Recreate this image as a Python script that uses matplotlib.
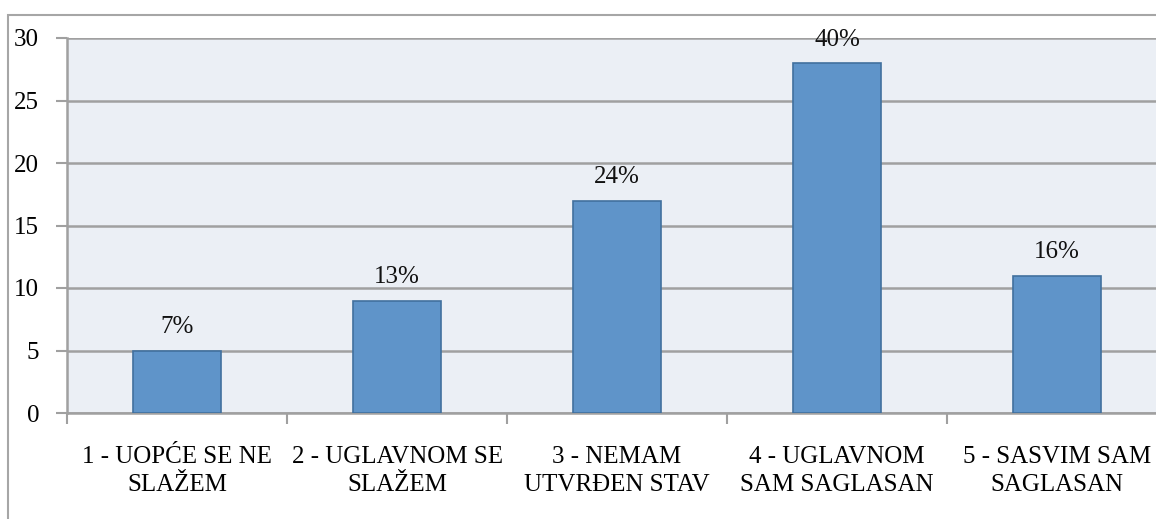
import numpy as np
import matplotlib
matplotlib.use("Agg")
import matplotlib.pyplot as plt
from matplotlib.patches import Rectangle

# data
categories = ["1 - UOPĆE SE NE\nSLAŽEM", "2 - UGLAVNOM SE\nSLAŽEM",
              "3 - NEMAM\nUTVRĐEN STAV", "4 - UGLAVNOM\nSAM SAGLASAN",
              "5 - SASVIM SAM\nSAGLASAN"]
counts = [5, 9, 17, 28, 11]
percent_labels = ["7%", "13%", "24%", "40%", "16%"]
y_ticks = [0, 5, 10, 15, 20, 25, 30]

plt.rcParams['font.family'] = ['Liberation Serif', 'DejaVu Serif']
FS = 18

W, H = 1156, 519
fig = plt.figure(figsize=(W / 100, H / 100), dpi=100)

# outer chart border (cut off at right and bottom like the reference)
fig.patches.append(Rectangle((8 / W, -0.1), 1.2, (H - 15) / H + 0.1,
                             transform=fig.transFigure, fill=False,
                             edgecolor='#A6A6A6', linewidth=1.5))

left, right, top, bottom = 67, 1167, 38, 413
ax = fig.add_axes([left / W, (H - bottom) / H, (right - left) / W, (bottom - top) / H])
ax.set_facecolor('#EBEFF5')

x = np.arange(len(categories))
ax.bar(x, counts, width=0.4, color='#5F94C9', edgecolor='#41709E', linewidth=1.2,
       zorder=3)
for xi, c, lab in zip(x, counts, percent_labels):
    ax.text(xi, c + 1.0, lab, ha='center', va='bottom', fontsize=FS, color='#111111')

ax.set_xlim(-0.5, len(categories) - 0.5)
ax.set_ylim(0, 30)
ax.set_yticks(y_ticks)
ax.yaxis.grid(True, color='#A0A0A0', linewidth=1.8, zorder=1)
ax.set_axisbelow(True)

ax.set_xticks(x)
ax.set_xticklabels(categories, fontsize=FS, linespacing=1.35)
ax.tick_params(axis='x', which='major', length=0, pad=24)
ax.set_xticks(np.arange(-0.5, len(categories), 1), minor=True)
ax.tick_params(axis='x', which='minor', length=8, width=1.5, color='#A0A0A0')
ax.tick_params(axis='y', length=8, width=1.5, color='#A0A0A0', pad=12, labelsize=FS)

for s in ['top', 'right']:
    ax.spines[s].set_visible(False)
for s in ['left', 'bottom']:
    ax.spines[s].set_color('#A0A0A0')
    ax.spines[s].set_linewidth(1.8)

fig.savefig("out.png", dpi=100)
